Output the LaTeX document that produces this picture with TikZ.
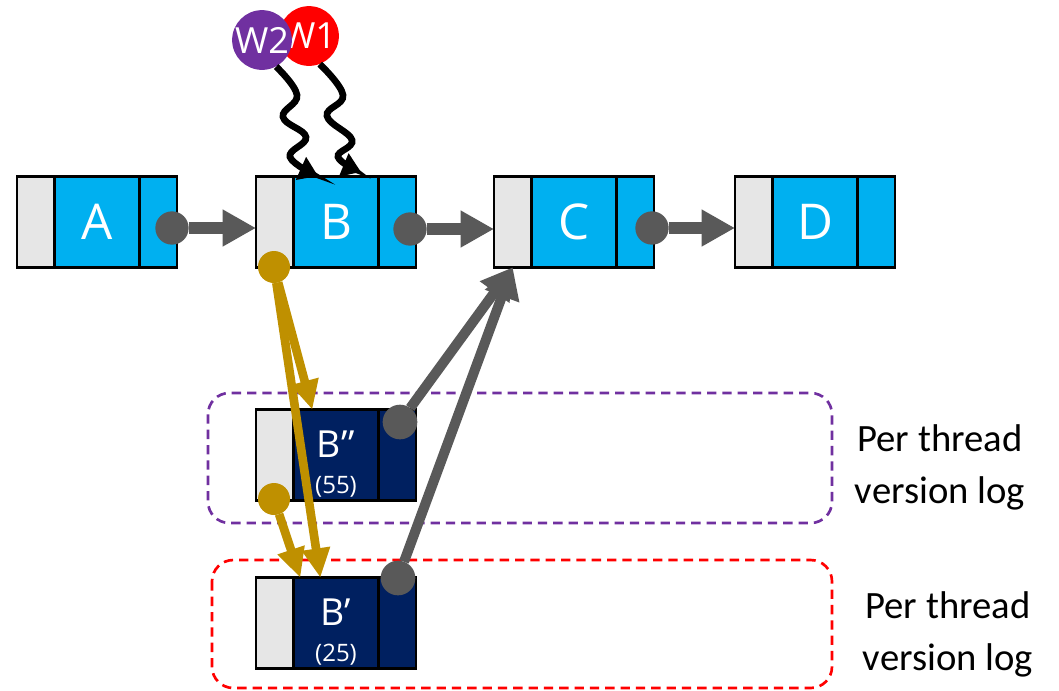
\documentclass[tikz,border=0pt]{standalone}
\usepackage{fontspec}
\setmainfont{Carlito}
\newfontfamily\segoe{Open Sans}
\usetikzlibrary{arrows.meta,calc}
\definecolor{cyanb}{HTML}{00B0F0}
\definecolor{lgrey}{HTML}{E6E6E6}
\definecolor{navyb}{HTML}{002060}
\definecolor{dgrey}{HTML}{595959}
\definecolor{goldb}{HTML}{BF9000}
\definecolor{purp}{HTML}{7030A0}
\begin{document}
\begin{tikzpicture}[x=0.75pt,y=-0.75pt,
  cell/.style={draw=black,line width=2pt,inner sep=0pt,outer sep=0pt,minimum height=68pt,anchor=west},
  gcell/.style={cell,fill=lgrey,minimum width=28pt},
  bcell/.style={cell,fill=cyanb,minimum width=64pt,text=white,font=\segoe\fontsize{37}{40}\selectfont},
  rcell/.style={cell,fill=cyanb,minimum width=28pt},
  ncell/.style={cell,fill=navyb,minimum width=64pt},
  nrcell/.style={cell,fill=navyb,minimum width=28pt},
  dot/.style={circle,fill=#1,inner sep=0pt,outer sep=0pt,minimum size=24pt},
  hdarrow/.style={draw=dgrey,line width=9.5pt,-{Triangle[length=25pt,width=26pt]}},
  uparrow/.style={draw=dgrey,line width=7.5pt,-{Triangle[length=23pt,width=26pt]}},
  goldarrow/.style={draw=goldb,line width=6.5pt,-{Triangle[length=22pt,width=20pt]}},
  squig/.style={draw=black,line width=5pt,-{Triangle[length=14pt,width=18pt]}},
  logbox/.style={line width=2pt,dash pattern=on 7pt off 4.5pt,rounded corners=16pt},
  wcirc/.style={circle,inner sep=0pt,text=white,font=\segoe\fontsize{27}{28}\selectfont},
  subl/.style={text=white,font=\segoe\fontsize{28}{30}\selectfont,inner sep=0pt},
  numl/.style={text=white,font=\segoe\fontsize{18}{20}\selectfont,inner sep=0pt},
  logl/.style={align=center,font=\fontsize{29}{39}\selectfont,inner sep=0pt}
]
\useasboundingbox (0,0) rectangle (1059,690);

% version log regions
\draw[logbox,draw=purp] (208,393) rectangle (832,523);
\draw[logbox,draw=red] (212,560) rectangle (832,688);
\node[logl] (L1) at (940,467) {Per thread\\version log};
\node[logl] (L2) at (948,634) {Per thread\\version log};

% top row
\node[gcell] (Ag) at (17,222) {};
\node[bcell] (Ab) at (Ag.east) {A};
\node[rcell] (Ar) at (Ab.east) {};
\node[gcell] (Bg) at (256,222) {};
\node[bcell] (Bb) at (Bg.east) {B};
\node[rcell] (Br) at (Bb.east) {};
\node[gcell] (Cg) at (494,222) {};
\node[bcell] (Cb) at (Cg.east) {C};
\node[rcell] (Cr) at (Cb.east) {};
\node[gcell] (Dg) at (735,222) {};
\node[bcell] (Db) at (Dg.east) {D};
\node[rcell] (Dr) at (Db.east) {};

% versions
\node[gcell] (Bppg) at (256,455) {};
\node[ncell] (Bppb) at (Bppg.east) {};
\node[nrcell] (Bppr) at (Bppb.east) {};
\node[subl] (Bppl) at ($(Bppb.center)+(0,-11)$) {B’\kern1pt’};
\node[numl] (Bppn) at ($(Bppb.center)+(0,32)$) {(55)};

\node[gcell] (Bpg) at (256,623) {};
\node[ncell] (Bpb) at (Bpg.east) {};
\node[nrcell] (Bpr) at (Bpb.east) {};
\node[subl] (Bpl) at ($(Bpb.center)+(0,-11)$) {B’};
\node[numl] (Bpn) at ($(Bpb.center)+(0,32)$) {(25)};

% threads
\node[wcirc,fill=red,minimum size=42pt] (W1) at (309,36) {W1};
\node[wcirc,fill=purp,minimum size=43.5pt] (W2) at (262,40) {W2};

% dots
\node[dot=dgrey,minimum size=25pt] (dA) at (172,228) {};
\node[dot=dgrey,minimum size=25pt] (dB) at (410,229) {};
\node[dot=dgrey,minimum size=25pt] (dC) at (652,228) {};
\node[dot=dgrey,minimum size=26pt] (dBpp) at (400,422) {};
\node[dot=dgrey,minimum size=26pt] (dBp) at (398,578) {};
\node[dot=goldb] (gB) at (274,267) {};
\node[dot=goldb] (gBpp) at (274,499) {};

% target points
\coordinate (t1) at ($(Bppb.north west)+(19,0)$);
\coordinate (t2) at ($(Bpb.north west)+(27,0)$);
\coordinate (t3) at ($(Bpb.north west)+(7,0)$);
\coordinate (s1) at (318,176);
\coordinate (s2) at (361,172);

% next pointers
\draw[hdarrow] (dA) -- (dA -| Bg.west);
\draw[hdarrow] (dB) -- (dB -| Cg.west);
\draw[hdarrow] (dC) -- (dC -| Dg.west);
\draw[uparrow] (dBpp) -- (Cg.south);
\draw[uparrow] (dBp) -- (Cg.south);

% version pointers
\draw[goldarrow] (gB) -- (t1);
\draw[goldarrow] (gB) -- (t2);
\draw[goldarrow] (gBpp) -- (t3);

% thread accesses
\draw[squig] plot[smooth,tension=0.7] coordinates {(W2.298) (297,95) (283,117) (306,137) (290,157) (s1)};
\draw[squig] plot[smooth,tension=0.7] coordinates {(W1.291) (343,95) (327,116) (352,140) (338,157) (s2)};
\end{tikzpicture}
\end{document}
